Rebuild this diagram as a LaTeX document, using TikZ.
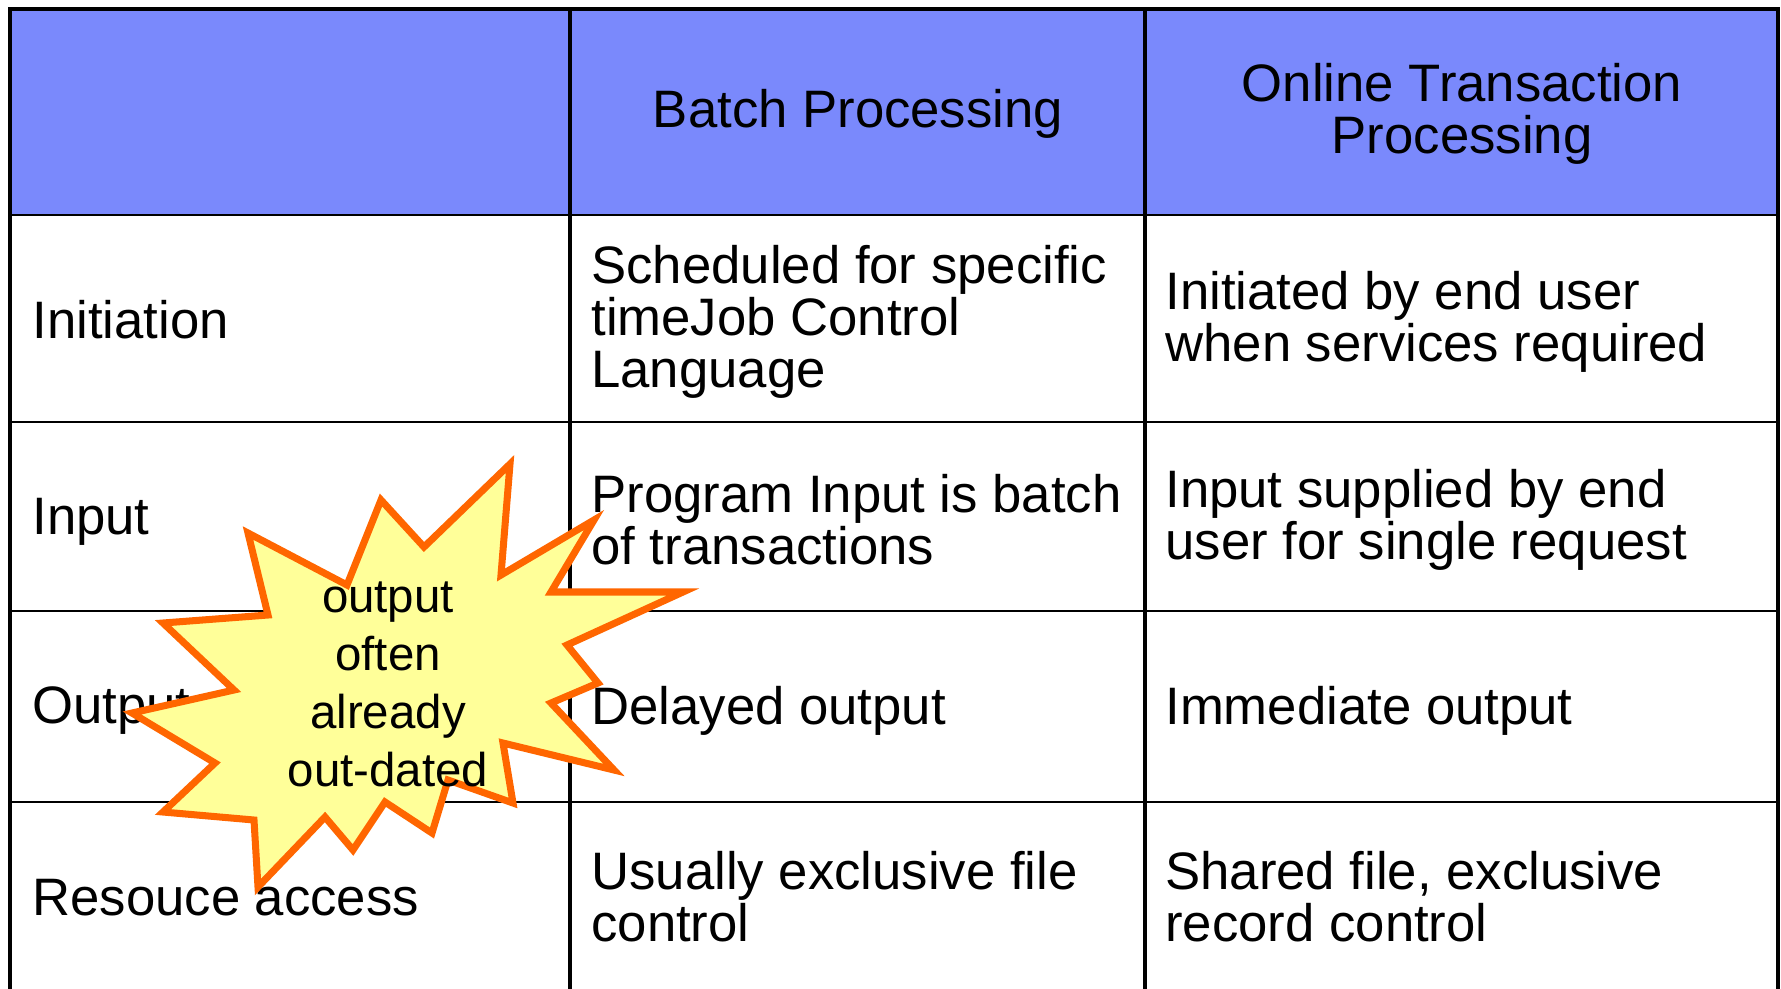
\documentclass[tikz,border=0pt]{standalone}
\usepackage{fontspec}
\setmainfont{Liberation Sans}
\definecolor{headblue}{RGB}{122,137,252}
\definecolor{burstorange}{RGB}{255,102,0}
\definecolor{burstyellow}{RGB}{255,255,153}
\begin{document}
\begin{tikzpicture}[x=0.02cm, y=-0.02cm,
    cell/.style={anchor=west, align=left, inner sep=0pt, font=\fontsize{30}{29.6}\selectfont},
    headcell/.style={align=center, inner sep=0pt, font=\fontsize{30}{29.6}\selectfont},
    heavyrule/.style={line width=2.8pt},
    lightrule/.style={line width=1.3pt},
    burst/.style={draw=burstorange, fill=burstyellow, line width=4pt, line join=miter}]
  \useasboundingbox (0,0) rectangle (1781,988);

  % header band
  \fill[headblue] (10,9) rectangle (1778,215);

  % rows
  \draw[lightrule] (10,215) -- (1778,215);
  \draw[lightrule] (10,422) -- (1778,422);
  \draw[lightrule] (10,611) -- (1778,611);
  \draw[lightrule] (10,802) -- (1778,802);

  % frame and columns
  \draw[heavyrule] (10,990) -- (10,9) -- (1778,9) -- (1778,990);
  \draw[heavyrule] (570,9) -- (570,990);
  \draw[heavyrule] (1145,9) -- (1145,990);

  % header
  \node[headcell] (batch) at (858,114) {Batch Processing};
  \node[headcell] (online) at (1462,114) {Online Transaction\\Processing};

  % first column
  \node[cell] (initiation) at (32,320) {Initiation};
  \node[cell] (input) at (32,522) {Input};
  \node[cell] (output) at (32,711) {Output};
  \node[cell] (access) at (32,898) {Resouce access};

  % batch column
  \node[cell] (batchinit) at (591,322) {Scheduled for specific\\timeJob Control\\Language};
  \node[cell] (batchinput) at (591,520) {Program Input is batch\\of transactions};
  \node[cell] (batchoutput) at (591,711) {Delayed output};
  \node[cell] (batchaccess) at (591,897) {Usually exclusive file\\control};

  % online column
  \node[cell] (onlineinit) at (1165,322) {Initiated by end user\\when services required};
  \node[cell] (onlineinput) at (1165,520) {Input supplied by end\\user for single request};
  \node[cell] (onlineoutput) at (1165,711) {Immediate output};
  \node[cell] (onlineaccess) at (1165,897) {Shared file, exclusive\\record control};

  % explosion
  \draw[burst] (510,464) -- (501,575) -- (594,520) -- (551,592) -- (683,592)
    -- (567,645) -- (598,683) -- (551,703) -- (614,770) -- (503,743)
    -- (513,803) -- (448,780) -- (432,833) -- (385,802) -- (353,850)
    -- (325,817) -- (258,887) -- (254,820) -- (163,812) -- (215,763)
    -- (132,713) -- (234,690) -- (163,623) -- (268,615) -- (248,533)
    -- (347,585) -- (381,500) -- (424,547) -- cycle;
  \node[align=center, inner sep=0pt, font=\fontsize{27}{33}\selectfont] (note) at (388,684)
    {output\\often\\already\\out-dated};
\end{tikzpicture}
\end{document}
